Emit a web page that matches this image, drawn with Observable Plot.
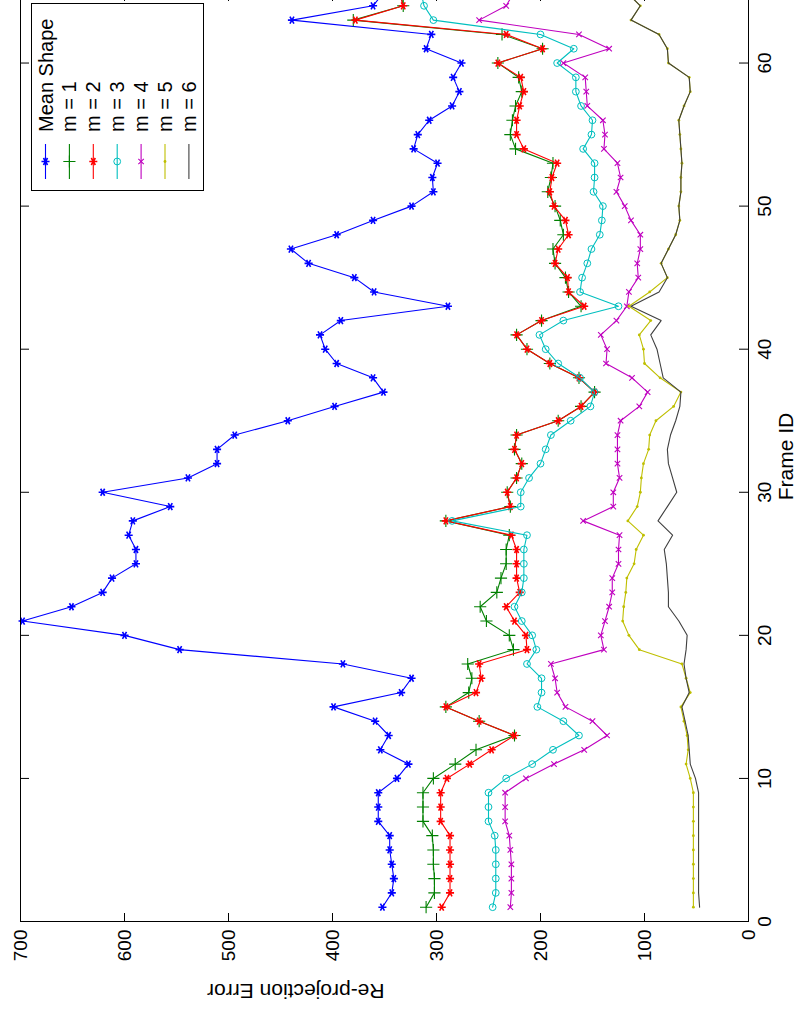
<!DOCTYPE html>
<html>
<head>
<meta charset="utf-8">
<script src="https://cdn.jsdelivr.net/npm/d3@7"></script>
<script src="https://cdn.jsdelivr.net/npm/@observablehq/plot@0.6"></script>
<style>
html, body { margin: 0; padding: 0; background: #fff; overflow: hidden; width: 808px; height: 1015px; }
#rot { position: absolute; left: 0; top: 0; width: 1024px; height: 808px;
       transform-origin: 0 0; transform: translate(0px, 1015px) rotate(-90deg); }
#legend { position: absolute; left: 824px; top: 31px; }
</style>
</head>
<body>
<div id="rot"></div>
<script>
// ---- data ----
const frames = [1,2,3,4,5,6,7,8,9,10,11,12,13,14,15,16,17,18,19,20,21,22,23,24,25,26,27,28,29,30,31,32,33,34,35,36,37,38,39,40,41,42,43,44,45,46,47,48,49,50,51,52,53,54,55,56,57,58,59,60,61,62,63,64,65];

const meanShape = [352,343,341,343,345,345,356,356,356,338,327,354,346,359,399,334,324,390,547,600,698,651,621,612,589,589,596,592,556,621,539,511,511,494,443,398,351,361,396,407,412,392,289,360,379,423,440,396,361,324,303,304,299,322,318,307,285,278,284,276,310,305,439,361,350];
const m1 = [310,302,302,303,303,304,313,313,313,303,282,262,225,259,291,269,266,270,226,230,252,258,242,238,233,233,230,291,229,232,223,218,225,223,183,161,148,163,191,213,223,199,161,173,176,186,188,178,181,186,193,190,188,224,229,227,224,218,221,241,198,237,380,332,335];
const m2 = [295,287,287,287,287,287,296,296,296,290,268,247,225,259,291,262,257,259,213,214,225,233,220,223,223,223,228,291,229,232,223,218,225,223,183,161,148,163,191,213,223,199,158,173,174,186,183,173,176,187,191,189,184,216,223,223,220,216,219,241,198,233,378,332,336];
const m3 = [246,243,243,243,243,244,250,250,250,233,208,188,163,178,203,199,199,213,204,208,218,225,218,216,216,216,213,285,219,219,211,200,195,190,171,152,148,162,183,195,201,178,125,162,160,155,151,143,141,140,149,148,148,159,151,150,161,166,166,184,168,200,303,312,315];
const m4 = [229,228,228,228,229,230,234,234,234,214,187,158,136,150,176,184,186,190,139,142,138,134,131,131,125,125,124,159,130,130,124,126,126,126,123,105,97,112,137,136,142,127,117,115,106,107,104,104,113,119,127,123,126,139,138,140,155,156,157,178,134,163,259,233,225];
const m5 = [53,53,53,53,53,53,53,53,53,56,60,58,59,62,65,56,60,64,105,115,121,120,118,117,110,108,101,116,107,104,103,101,96,95,89,72,65,85,100,101,105,94,115,95,78,84,77,70,66,67,65,65,64,65,66,67,62,56,57,77,78,86,113,104,118];
const m6 = [47,48,48,48,48,48,48,48,48,51,56,57,58,61,64,57,60,62,60,59,67,77,77,78,79,81,73,87,78,69,73,77,78,75,70,66,65,82,85,88,94,84,113,86,78,84,77,70,66,67,65,65,64,65,66,67,62,56,57,77,78,86,113,104,118];

const seriesNames = ["Mean Shape", "m = 1", "m = 2", "m = 3", "m = 4", "m = 5", "m = 6"];
const frameTicks = [0, 10, 20, 30, 40, 50, 60];
const errorTicks = [0, 100, 200, 300, 400, 500, 600, 700];
const xLabel = "Frame ID";
const yLabel = "Re-projection Error";

// ---- styles ----
const seriesValues = [meanShape, m1, m2, m3, m4, m5, m6];
const styles = [
  {color: "#0000ff", symbol: "asterisk", r: 3.8, filled: false, sw: 1.6},
  {color: "#008000", symbol: "plus", r: 4.0, filled: false, sw: 1.1},
  {color: "#ff0000", symbol: "asterisk", r: 3.8, filled: false, sw: 1.6},
  {color: "#00bfbf", symbol: "circle", r: 3.4, filled: false, sw: 1},
  {color: "#bf00bf", symbol: "times", r: 2.6, filled: false, sw: 1.1},
  {color: "#bfbf00", symbol: "circle", r: 1.4, filled: true, sw: 1},
  {color: "#3f3f3f", symbol: null, r: 0, filled: false, sw: 1}
];

const font = "Liberation Sans, Arial, Helvetica, sans-serif";
const marks = [];
seriesValues.forEach((vals, i) => {
  const s = styles[i];
  marks.push(Plot.line(vals, {x: frames, y: d => d, stroke: s.color, strokeWidth: 1.1}));
  if (s.symbol) {
    marks.push(Plot.dot(vals, {
      x: frames, y: d => d, symbol: s.symbol, r: s.r,
      stroke: s.filled ? "none" : s.color, fill: s.filled ? s.color : "none", strokeWidth: s.sw
    }));
  }
});

const chart = Plot.plot({
  width: 1024, height: 808,
  marginLeft: 93, marginRight: 1, marginTop: 20, marginBottom: 60,
  x: {domain: [0, 65]},
  y: {domain: [0, 700]},
  style: {fontFamily: font, fontSize: "19px", background: "white", color: "black", overflow: "visible"},
  marks: [
    ...marks,
    Plot.frame({stroke: "black", strokeWidth: 1}),
    Plot.ruleX(frameTicks, {x: d => d, insetTop: 719, stroke: "black"}),
    Plot.ruleX(frameTicks, {x: d => d, insetBottom: 719, stroke: "black"}),
    Plot.ruleY(errorTicks, {y: d => d, insetRight: 921, stroke: "black"}),
    Plot.ruleY(errorTicks, {y: d => d, insetLeft: 921, stroke: "black"}),
    Plot.axisX(frameTicks, {anchor: "bottom", tickSize: 0, tickPadding: 9, label: null, fontSize: 19, fill: "black"}),
    Plot.axisY(errorTicks, {anchor: "left", tickSize: 0, tickPadding: 8, label: null, fontSize: 19, fill: "black"}),
    Plot.text([xLabel], {frameAnchor: "bottom", lineAnchor: "top", dy: 30, fontSize: 21, fill: "black"}),
    Plot.text([yLabel], {frameAnchor: "left", rotate: -90, lineAnchor: "top", dx: -77, fontSize: 21, fill: "black"})
  ]
});
const rot = document.getElementById("rot");
rot.appendChild(chart);

// ---- legend (MATLAB-style box, top-right of the original axes) ----
const symMap = {asterisk: d3.symbolAsterisk, plus: d3.symbolPlus, circle: d3.symbolCircle, times: d3.symbolTimes};
const lw = 187, lh = 172;
const leg = d3.select(rot).append("svg").attr("id", "legend")
  .attr("width", lw + 2).attr("height", lh + 2)
  .style("font-family", font).style("font-size", "20px");
leg.append("rect").attr("x", 0.5).attr("y", 0.5).attr("width", lw).attr("height", lh)
  .attr("fill", "white").attr("stroke", "black");
seriesNames.forEach((name, i) => {
  const s = styles[i];
  const cy = 14.5 + i * 23.9;
  leg.append("line").attr("x1", 12).attr("x2", 47).attr("y1", cy).attr("y2", cy)
    .attr("stroke", s.color).attr("stroke-width", 1.1);
  if (s.symbol) {
    leg.append("path")
      .attr("d", d3.symbol(symMap[s.symbol], Math.PI * s.r * s.r)())
      .attr("transform", `translate(29.5,${cy})`)
      .attr("fill", s.filled ? s.color : "none")
      .attr("stroke", s.filled ? "none" : s.color)
      .attr("stroke-width", s.sw);
  }
  leg.append("text").attr("x", 59).attr("y", cy).attr("dy", "0.35em").attr("fill", "black").text(name);
});
</script>
</body>
</html>
